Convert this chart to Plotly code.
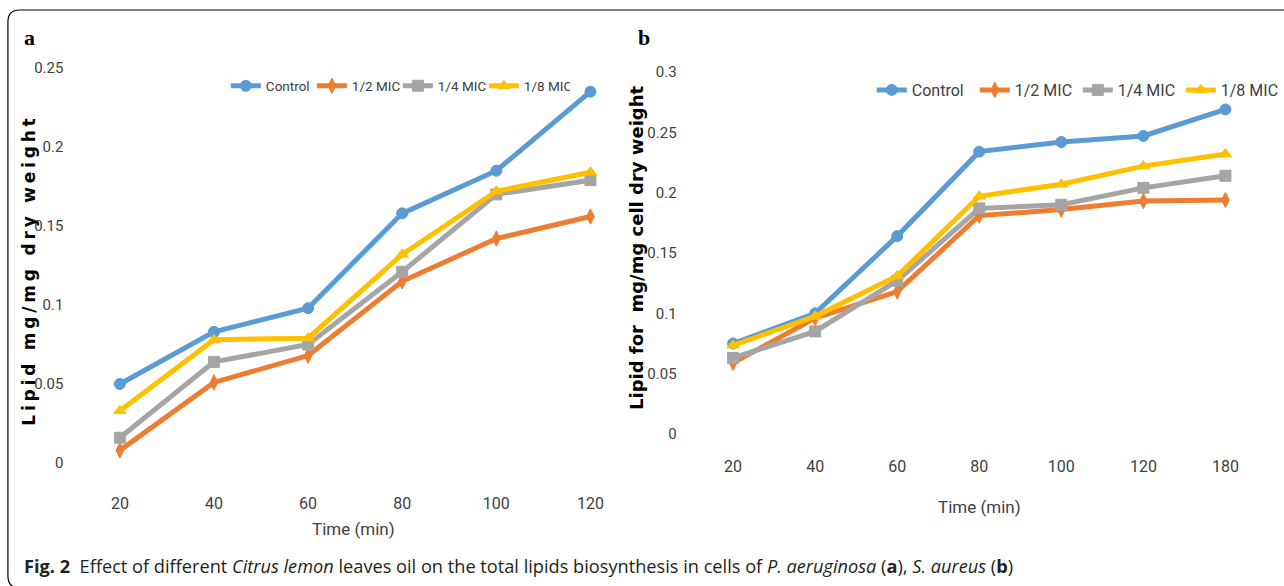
import plotly.graph_objects as go

W, H = 1284, 586

# ---------------- data ----------------
series_names = ["Control", "1/2 MIC", "1/4 MIC", "1/8 MIC"]
series_colors = ["#5B9BD5", "#ED7D31", "#A5A5A5", "#FFC000"]
series_symbols = ["circle", "diamond-tall", "square", "triangle-up"]

time_a = [20, 40, 60, 80, 100, 120]
control_a = [0.050, 0.083, 0.098, 0.158, 0.185, 0.235]
half_a = [0.008, 0.051, 0.068, 0.115, 0.142, 0.156]
quarter_a = [0.016, 0.064, 0.075, 0.121, 0.170, 0.179]
eighth_a = [0.033, 0.078, 0.079, 0.132, 0.172, 0.184]

time_b = ["20", "40", "60", "80", "100", "120", "180"]
control_b = [0.075, 0.100, 0.164, 0.234, 0.242, 0.247, 0.269]
half_b = [0.059, 0.096, 0.118, 0.181, 0.186, 0.193, 0.194]
quarter_b = [0.063, 0.085, 0.127, 0.187, 0.190, 0.204, 0.214]
eighth_b = [0.0735, 0.0975, 0.131, 0.197, 0.207, 0.222, 0.232]

yticks_a = [0, 0.05, 0.1, 0.15, 0.2, 0.25]
yticktext_a = ["0", "0.05", "0.1", "0.15", "0.2", "0.25"]
yticks_b = [0, 0.05, 0.1, 0.15, 0.2, 0.25, 0.3]
yticktext_b = ["0", "0.05", "0.1", "0.15", "0.2", "0.25", "0.3"]

ytitle_a = "Lipid mg/mg dry weight"
ytitle_b = "Lipid for  mg/mg cell dry weight"
xtitle = "Time (min)"
caption = ("<b>Fig. 2</b>  Effect of different <i>Citrus lemon</i> leaves oil on the total lipids "
           "biosynthesis in cells of <i>P. aeruginosa</i> (<b>a</b>), <i>S. aureus</i> (<b>b</b>)")

# ---------------- helpers ----------------
def px(x):
    return x / W

def py(y):
    return 1 - y / H

NARROW = "Roboto, sans-serif"
XTICKFONT = dict(family=NARROW, size=16, color="#404040")
YTICKFONT = dict(family=NARROW, size=15, color="#404040")

fig = go.Figure()

vals_a = [control_a, half_a, quarter_a, eighth_a]
vals_b = [control_b, half_b, quarter_b, eighth_b]

for name, col, sym, v in zip(series_names, series_colors, series_symbols, vals_a):
    fig.add_trace(go.Scatter(
        x=time_a, y=v, name=name, mode="lines+markers",
        line=dict(color=col, width=5),
        marker=dict(color=col, symbol=sym, size=11, line=dict(color=col, width=1)),
        xaxis="x", yaxis="y", legend="legend", cliponaxis=False,
    ))

for name, col, sym, v in zip(series_names, series_colors, series_symbols, vals_b):
    fig.add_trace(go.Scatter(
        x=time_b, y=v, name=name, mode="lines+markers",
        line=dict(color=col, width=5),
        marker=dict(color=col, symbol=sym, size=11, line=dict(color=col, width=1)),
        xaxis="x2", yaxis="y2", legend="legend2", cliponaxis=False,
    ))

# panel a geometry: 20 -> 121px, 120 -> 596px ; 0 -> 463px, 0.25 -> 68px
ax_l, ax_r, ax_t, ax_b = 65, 622, 60, 492
xs = (596 - 121) / 100.0
xa0 = 20 + (ax_l - 121) / xs
xa1 = 20 + (ax_r - 121) / xs
ys = (463 - 68) / 0.25
ya0 = -(ax_b - 463) / ys
ya1 = (463 - ax_t) / ys

# panel b geometry: idx0 -> 740px, idx6 -> 1237px ; 0 -> 434px, 0.3 -> 72px
bx_l, bx_r, bx_t, bx_b = 684, 1284, 62, 455
bxs = (1237 - 740) / 6.0
xb0 = (bx_l - 740) / bxs
xb1 = (bx_r - 740) / bxs
bys = (434 - 72) / 0.3
yb0 = -(bx_b - 434) / bys
yb1 = (434 - bx_t) / bys

common_axis = dict(showgrid=False, zeroline=False, showline=False, ticks="")

fig.update_layout(
    width=W, height=H,
    margin=dict(l=0, r=0, t=0, b=0),
    paper_bgcolor="white", plot_bgcolor="rgba(0,0,0,0)",
    showlegend=True,
    xaxis=dict(domain=[px(ax_l), px(ax_r)], range=[xa0, xa1], tickvals=time_a,
               anchor="y", tickfont=XTICKFONT, **common_axis),
    yaxis=dict(domain=[py(ax_b), py(ax_t)], range=[ya0, ya1], tickvals=yticks_a,
               ticktext=yticktext_a, anchor="x", tickfont=YTICKFONT, **common_axis),
    xaxis2=dict(domain=[px(bx_l), px(bx_r)], range=[xb0, xb1], type="category",
                categoryorder="array", categoryarray=time_b, anchor="y2",
                tickfont=XTICKFONT, **common_axis),
    yaxis2=dict(domain=[py(bx_b), py(bx_t)], range=[yb0, yb1], tickvals=yticks_b,
                ticktext=yticktext_b, anchor="x2", tickfont=YTICKFONT, **common_axis),
    legend=dict(orientation="h", x=px(228), y=py(86), xanchor="left", yanchor="middle",
                font=dict(family=NARROW, size=13.5, color="#404040"),
                bgcolor="rgba(0,0,0,0)", entrywidth=41, entrywidthmode="pixels",
                itemclick=False, itemdoubleclick=False),
    legend2=dict(orientation="h", x=px(880), y=py(90), xanchor="left", yanchor="middle",
                 font=dict(family=NARROW, size=16, color="#404040"),
                 bgcolor="rgba(0,0,0,0)", entrywidth=58, entrywidthmode="pixels",
                 itemclick=False, itemdoubleclick=False),
)

annotations = [
    dict(text="<b>a</b>", x=px(22), y=py(38), xanchor="left", yanchor="middle",
         font=dict(family="Liberation Serif, serif", size=22, color="black")),
    dict(text="<b>b</b>", x=px(642), y=py(38), xanchor="left", yanchor="middle",
         font=dict(family="Liberation Serif, serif", size=22, color="black")),
    dict(text='<span style="letter-spacing:3.8px"><b>' + ytitle_a + "</b></span>",
         x=px(29), y=py(270), textangle=-90, xanchor="center", yanchor="middle",
         font=dict(family="DejaVu Sans, Verdana, sans-serif", size=17, color="black")),
    dict(text="<b>" + ytitle_b + "</b>", x=px(642), y=py(248), textangle=-90,
         xanchor="center", yanchor="middle",
         font=dict(family="DejaVu Sans, Verdana, sans-serif", size=18, color="black")),
    dict(text=xtitle, x=px(357), y=py(529), xanchor="center", yanchor="middle",
         font=dict(family=NARROW, size=17, color="#404040")),
    dict(text=xtitle, x=px(989), y=py(507), xanchor="center", yanchor="middle",
         font=dict(family=NARROW, size=17, color="#404040")),
    dict(text=caption, x=px(22), y=py(566), xanchor="left", yanchor="middle",
         font=dict(family="Open Sans, Noto Sans, sans-serif", size=18.2, color="#231F20")),
]
for a in annotations:
    a.update(xref="paper", yref="paper", showarrow=False)
fig.update_layout(annotations=annotations)

# rounded frame around the figure (decoration)
path = (f"M {px(1300)},{py(10)} L {px(20)},{py(10)} Q {px(8)},{py(10)} {px(8)},{py(22)} "
        f"L {px(8)},{py(576)} Q {px(8)},{py(588)} {px(20)},{py(588)}")
fig.add_shape(type="path", path=path, xref="paper", yref="paper",
              line=dict(color="black", width=1.2))

fig.write_html("out.html")
